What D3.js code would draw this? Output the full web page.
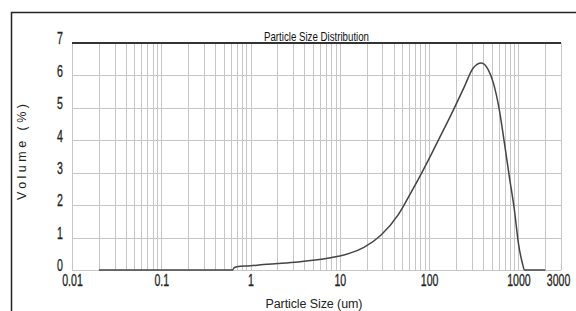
<!DOCTYPE html>
<html>
<head>
<meta charset="utf-8">
<script src="https://cdn.jsdelivr.net/npm/d3@7"></script>
<style>
  body { margin: 0; background: #fff; }
  svg { display: block; }
</style>
</head>
<body>
<svg id="chart"></svg>
<script>
// particle size (um) and volume (%)
var sizes = [0.02, 0.63, 0.65, 0.7, 1, 1.4, 2, 3.4, 5, 7.9, 10, 13, 18.6, 29, 45, 63, 81, 105, 135, 177, 247, 312, 384, 460, 524, 612, 697, 792, 902, 1000, 1110, 1170, 2000];
var volumes = [0, 0, 0.06, 0.1, 0.13, 0.17, 0.2, 0.25, 0.3, 0.38, 0.43, 0.52, 0.7, 1.08, 1.7, 2.4, 2.95, 3.55, 4.15, 4.8, 5.64, 6.23, 6.38, 6.17, 5.77, 4.93, 3.92, 2.87, 1.85, 0.83, 0.2, 0, 0];

var xTickValues = [0.01, 0.1, 1, 10, 100, 1000, 3000];
var xTickLabels = ["0.01", "0.1", "1", "10", "100", "1000", "3000"];
var yTickValues = [0, 1, 2, 3, 4, 5, 6, 7];

var width = 576, height = 311;
var margin = { top: 43, right: 15, bottom: 41, left: 72 };
var innerW = width - margin.left - margin.right;
var innerH = height - margin.top - margin.bottom;

var svg = d3.select("#chart").attr("width", width).attr("height", height);

var x = d3.scaleLog().domain([0.01, 3000]).range([margin.left, margin.left + innerW]);
var y = d3.scaleLinear().domain([0, 7]).range([margin.top + innerH, margin.top]);

// squeeze a text horizontally, the picture uses a narrow face
function narrow(sel, f) {
  sel.each(function () {
    var w = this.getComputedTextLength();
    d3.select(this)
      .attr("textLength", w * f)
      .attr("lengthAdjust", "spacingAndGlyphs");
  });
}

// outer frame (left + top edge visible)
svg.append("path")
  .attr("d", "M11.5," + height + "V12.5H" + width)
  .attr("fill", "none")
  .attr("stroke", "#222")
  .attr("stroke-width", 1.5);

// vertical grid: 1..9 per decade, plus 2000 and 3000
var gridX = [];
for (var e = -2; e <= 2; e++) {
  for (var k = 1; k <= 9; k++) gridX.push(k * Math.pow(10, e));
}
gridX.push(1000, 2000, 3000);

svg.append("g")
  .selectAll("line")
  .data(gridX)
  .join("line")
  .attr("x1", function (d) { return Math.round(x(d)) + 0.5; })
  .attr("x2", function (d) { return Math.round(x(d)) + 0.5; })
  .attr("y1", y(7))
  .attr("y2", y(0))
  .attr("stroke", "#c6c6c6")
  .attr("stroke-width", 1);

// horizontal grid
svg.append("g")
  .selectAll("line")
  .data(yTickValues.filter(function (d) { return d < 7; }))
  .join("line")
  .attr("x1", x(0.01))
  .attr("x2", x(3000))
  .attr("y1", function (d) { return Math.round(y(d)) + 0.5; })
  .attr("y2", function (d) { return Math.round(y(d)) + 0.5; })
  .attr("stroke", "#c6c6c6")
  .attr("stroke-width", 1);

// top line at 7 is dark
svg.append("line")
  .attr("x1", x(0.01))
  .attr("x2", x(3000))
  .attr("y1", y(7))
  .attr("y2", y(7))
  .attr("stroke", "#333")
  .attr("stroke-width", 2);

// y tick labels
svg.append("g")
  .attr("transform", "translate(" + (margin.left - 9) + ",0)")
  .call(d3.axisLeft(y).tickValues(yTickValues).tickSize(0).tickPadding(0)
    .tickFormat(d3.format("d")))
  .call(function (g) { g.select(".domain").remove(); })
  .selectAll("text")
  .attr("font-family", "'Liberation Sans', Arial, sans-serif")
  .attr("font-size", 16)
  .attr("fill", "#222")
  .attr("stroke", "#222")
  .attr("stroke-width", 0.3)
  .attr("dy", "0.05em")
  .call(narrow, 0.66);

// x tick labels
svg.append("g")
  .attr("transform", "translate(0," + (margin.top + innerH) + ")")
  .call(d3.axisBottom(x).tickValues(xTickValues).tickSize(0).tickPadding(5)
    .tickFormat(function (d, i) { return xTickLabels[i]; }))
  .call(function (g) { g.select(".domain").remove(); })
  .selectAll("text")
  .attr("font-family", "'Liberation Sans', Arial, sans-serif")
  .attr("font-size", 16)
  .attr("fill", "#222")
  .attr("stroke", "#222")
  .attr("stroke-width", 0.3)
  .attr("dx", function (d) { return d === 3000 ? -3 : 0; })
  .call(narrow, 0.66);

// curve
var line = d3.line()
  .x(function (d, i) { return x(sizes[i]); })
  .y(function (d) { return y(d); })
  .curve(d3.curveMonotoneX);

svg.append("path")
  .datum(volumes)
  .attr("d", line)
  .attr("fill", "none")
  .attr("stroke", "#444")
  .attr("stroke-width", 1.5);

// title
svg.append("text")
  .attr("x", (x(0.01) + x(3000)) / 2)
  .attr("y", margin.top - 2)
  .attr("text-anchor", "middle")
  .attr("font-family", "'Liberation Sans', Arial, sans-serif")
  .attr("font-size", 13)
  .attr("fill", "#111")
  .attr("textLength", 105)
  .attr("lengthAdjust", "spacingAndGlyphs")
  .text("Particle Size Distribution");

// axis titles
svg.append("text")
  .attr("transform", "translate(26,152) rotate(-90)")
  .attr("text-anchor", "middle")
  .attr("font-family", "'Liberation Sans', Arial, sans-serif")
  .attr("font-size", 12.5)
  .attr("fill", "#222")
  .attr("textLength", 96)
  .attr("lengthAdjust", "spacing")
  .text("Volume (%)");

svg.append("text")
  .attr("x", 314)
  .attr("y", 308)
  .attr("text-anchor", "middle")
  .attr("font-family", "'Liberation Sans', Arial, sans-serif")
  .attr("font-size", 12.5)
  .attr("fill", "#222")
  .attr("textLength", 97)
  .attr("lengthAdjust", "spacing")
  .text("Particle Size (um)");
</script>
</body>
</html>
